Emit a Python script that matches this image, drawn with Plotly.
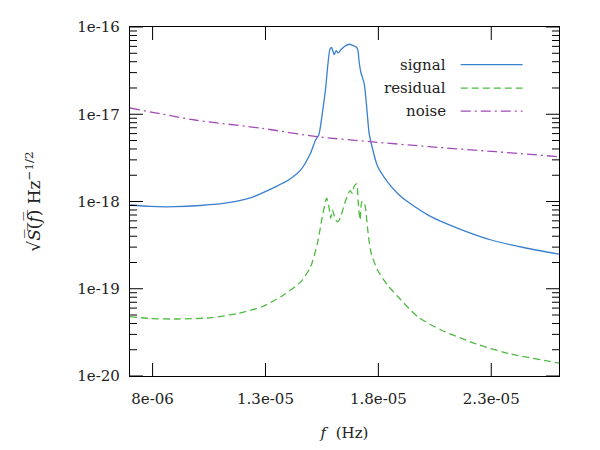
import math
import plotly.graph_objects as go

# frequencies in Hz
f_signal = [7.0e-6, 7.89e-6, 9.0e-6, 10.11e-6, 11.36e-6, 12.33e-6, 12.82e-6, 13.44e-6, 14.02e-6,
            14.56e-6, 15.0e-6, 15.22e-6, 15.36e-6, 15.52e-6, 15.67e-6, 15.77e-6, 15.86e-6, 15.93e-6,
            16.04e-6, 16.13e-6, 16.22e-6, 16.33e-6, 16.48e-6, 16.70e-6, 16.92e-6, 17.02e-6, 17.09e-6,
            17.15e-6, 17.22e-6, 17.37e-6, 17.44e-6, 17.52e-6, 17.59e-6, 17.67e-6, 17.96e-6, 18.41e-6,
            18.92e-6, 19.30e-6, 20.33e-6, 21.52e-6, 23.0e-6, 24.48e-6, 26.04e-6]
signal = [9.12e-19, 8.77e-19, 8.72e-19, 9.0e-19, 9.69e-19, 1.10e-18, 1.24e-18, 1.47e-18, 1.76e-18,
          2.30e-18, 3.60e-18, 5.07e-18, 5.78e-18, 1.03e-17, 2.05e-17, 3.87e-17, 5.60e-17, 5.82e-17,
          4.84e-17, 5.35e-17, 5.04e-17, 5.45e-17, 5.94e-17, 6.34e-17, 6.06e-17, 5.90e-17, 5.45e-17,
          3.97e-17, 3.05e-17, 2.26e-17, 1.59e-17, 9.37e-18, 6.05e-18, 4.81e-18, 2.55e-18, 1.67e-18,
          1.19e-18, 9.95e-19, 6.70e-19, 4.93e-19, 3.62e-19, 2.95e-19, 2.48e-19]

f_residual = [7.0e-6, 7.89e-6, 9.13e-6, 10.6e-6, 11.8e-6, 12.84e-6, 13.8e-6, 14.56e-6, 15.0e-6,
              15.30e-6, 15.52e-6, 15.71e-6, 15.81e-6, 15.89e-6, 15.96e-6, 16.11e-6, 16.21e-6, 16.33e-6,
              16.56e-6, 16.75e-6, 16.85e-6, 16.92e-6, 17.04e-6, 17.10e-6, 17.19e-6, 17.27e-6, 17.37e-6,
              17.44e-6, 17.52e-6, 17.67e-6, 17.96e-6, 18.41e-6, 18.92e-6, 19.74e-6, 20.78e-6, 22.26e-6,
              23.74e-6, 26.04e-6]
residual = [4.79e-20, 4.56e-20, 4.50e-20, 4.66e-20, 5.23e-20, 6.22e-20, 8.48e-20, 1.20e-19, 1.79e-19,
            3.32e-19, 6.70e-19, 1.09e-18, 8.72e-19, 6.42e-19, 8.0e-19, 6.14e-19, 5.87e-19, 6.70e-19,
            1.04e-18, 1.33e-18, 1.24e-18, 1.48e-18, 1.59e-18, 1.04e-18, 6.14e-19, 9.95e-19, 9.87e-19,
            8.0e-19, 4.97e-19, 2.64e-19, 1.64e-19, 1.10e-19, 7.83e-20, 4.79e-20, 3.37e-20, 2.37e-20,
            1.82e-20, 1.40e-20]

f_noise = [7.0e-6, 9.88e-6, 12.84e-6, 15.28e-6, 17.65e-6, 20.24e-6, 23.21e-6, 26.0e-6]
noise = [1.18e-17, 8.59e-18, 6.90e-18, 5.53e-18, 4.85e-18, 4.25e-18, 3.72e-18, 3.26e-18]

x_range = [7e-6, 2.6e-5]
y_range_log = [-20, -16]
x_tickvals = [8e-6, 1.3e-5, 1.8e-5, 2.3e-5]
x_ticktext = ["8e-06", "1.3e-05", "1.8e-05", "2.3e-05"]
y_tickvals = [1e-20, 1e-19, 1e-18, 1e-17, 1e-16]
y_ticktext = ["1e-20", "1e-19", "1e-18", "1e-17", "1e-16"]
y_minor = [m * d for d in y_tickvals[:-1] for m in range(2, 10)]

names = ["signal", "residual", "noise"]
colors = ["#3b7fcf", "#4cbb3f", "#a24bb8"]
dashes = ["solid", "7px,4px", "10px,4px,2px,4px"]

FONT = "DejaVu Serif"
TXT = "#222"
W, H = 600, 450
M = dict(l=130, r=41, t=27, b=74)
plot_w = W - M["l"] - M["r"]

fig = go.Figure()
fig.add_trace(go.Scatter(x=f_signal, y=signal, mode="lines", name=names[0],
                         line=dict(color=colors[0], width=1.3, dash=dashes[0], shape="spline", smoothing=0.7)))
fig.add_trace(go.Scatter(x=f_residual, y=residual, mode="lines", name=names[1],
                         line=dict(color=colors[1], width=1.3, dash=dashes[1], shape="spline", smoothing=0.7)))
fig.add_trace(go.Scatter(x=f_noise, y=noise, mode="lines", name=names[2],
                         line=dict(color=colors[2], width=1.3, dash=dashes[2], shape="spline", smoothing=0.6)))

# legend drawn gnuplot-style: text right-aligned, sample on the right
leg_y = [0.892, 0.825, 0.759]
for i in range(3):
    fig.add_annotation(xref="paper", yref="paper", x=0.741, y=leg_y[i], text=names[i],
                       showarrow=False, xanchor="right", yanchor="middle",
                       font=dict(family=FONT, size=15, color=TXT))
    fig.add_shape(type="line", xref="paper", yref="paper", x0=0.771, x1=0.915,
                  y0=leg_y[i], y1=leg_y[i],
                  line=dict(color=colors[i], width=1.3, dash=dashes[i]))

# inward tick marks on all four sides
TICK = dict(color="black", width=1)
for v in y_tickvals + y_minor:
    ln = (13 if v in y_tickvals else 7) / plot_w
    fy = (math.log10(v) - y_range_log[0]) / (y_range_log[1] - y_range_log[0])
    fig.add_shape(type="line", xref="x domain", x0=0, x1=ln,
                  yref="y domain", y0=fy, y1=fy, line=TICK, layer="above")
    fig.add_shape(type="line", xref="x domain", x0=1 - ln, x1=1,
                  yref="y domain", y0=fy, y1=fy, line=TICK, layer="above")
for v in x_tickvals:
    fig.add_shape(type="line", xref="x", x0=v, x1=v, yref="paper", ysizemode="pixel",
                  yanchor=0, y0=0, y1=13, line=TICK, layer="above")
    fig.add_shape(type="line", xref="x", x0=v, x1=v, yref="paper", ysizemode="pixel",
                  yanchor=1, y0=-13, y1=0, line=TICK, layer="above")

fig.update_xaxes(type="linear", range=x_range, tickmode="array",
                 tickvals=x_tickvals, ticktext=x_ticktext,
                 showgrid=False, zeroline=False, showline=True, linecolor="black", linewidth=1.2,
                 mirror=True, ticks="",
                 tickfont=dict(family=FONT, size=15, color=TXT), ticklabelstandoff=9,
                 title=dict(text="<i>f</i>  (Hz)", font=dict(family=FONT, size=15, color=TXT), standoff=20))

fig.update_yaxes(type="log", range=y_range_log, tickmode="array",
                 tickvals=y_tickvals, ticktext=y_ticktext,
                 showgrid=False, zeroline=False, showline=True, linecolor="black", linewidth=1.2,
                 mirror=True, ticks="",
                 tickfont=dict(family=FONT, size=15, color=TXT), ticklabelstandoff=6,
                 title=dict(text="√<i>S\u0305</i>(\u0305<i>f\u0305</i>)\u0305 Hz<sup>−1/2</sup>",
                            font=dict(family=FONT, size=17, color=TXT), standoff=32))

fig.update_layout(width=W, height=H, margin=M,
                  plot_bgcolor="white", paper_bgcolor="white", showlegend=False)

fig.write_html("out.html")
